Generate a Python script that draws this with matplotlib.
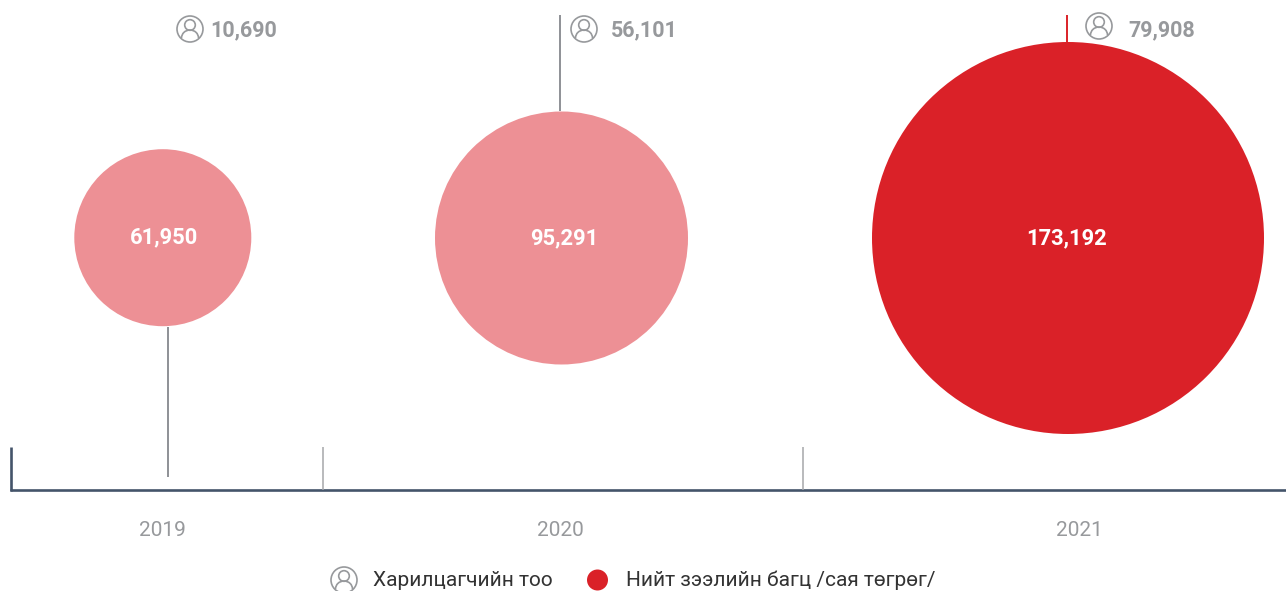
import matplotlib
matplotlib.use("Agg")
import matplotlib.pyplot as plt
from matplotlib.patches import Circle, Arc

years = ["2019", "2020", "2021"]
loans = [61950, 95291, 173192]
customers = [10690, 56101, 79908]
legend_labels = ["Харилцагчийн тоо", "Нийт зээлийн багц /сая төгрөг/"]

# layout in pixels
centers = [(162.8, 237.7), (561.5, 238), (1068, 238)]
radii = [88.5, 126.5, 196]
bubble_colors = ["#ED9095", "#ED9095", "#DA2128"]
stems = [(167.5, 327, 477, "#8E9196"), (560, 111, 15, "#8E9196"), (1067, 42, 15, "#DA2128")]
icons = [(190, 29), (584, 29), (1099, 26)]
cust_x = [210.5, 611, 1128]
cust_y = [30, 30, 30]
year_x = [162.5, 560, 1079]
label_x = [164.3, 563.8, 1066.5]

GRAY = "#97999C"
plt.rcParams["font.family"] = ["Roboto", "DejaVu Sans"]

fig = plt.figure(figsize=(12.86, 5.91), dpi=100)
ax = fig.add_axes([0, 0, 1, 1])
ax.set_xlim(0, 1286)
ax.set_ylim(591, 0)
ax.axis("off")


def icon(cx, cy, r=13, lw=1.2):
    ax.add_patch(Circle((cx, cy), r, fc="white", ec=GRAY, lw=lw, zorder=5))
    ax.add_patch(Circle((cx, cy - 4), 5.3, fc="none", ec=GRAY, lw=lw, zorder=6))
    ax.add_patch(Arc((cx, cy + 9), 17, 16, theta1=180, theta2=360,
                     ec=GRAY, lw=lw, zorder=6))


for (x, y0, y1, c) in stems:
    ax.plot([x, x], [y0, y1], color=c, lw=1.4, solid_capstyle="butt", zorder=1)

for (c, r, col, v, lx) in zip(centers, radii, bubble_colors, loans, label_x):
    ax.add_patch(Circle(c, r, fc=col, ec="none", zorder=2))
    ax.text(lx, c[1], f"{v:,}", color="white", fontsize=15.8, fontweight="bold",
            ha="center", va="center", zorder=3)

for (ic, x, y, v) in zip(icons, cust_x, cust_y, customers):
    icon(*ic)
    ax.text(x, y, f"{v:,}", color=GRAY, fontsize=15.5, fontweight="bold",
            ha="left", va="center")

# axis
AXIS = "#44546A"
ax.plot([10, 1286], [490, 490], color=AXIS, lw=1.9, solid_capstyle="butt", zorder=1)
ax.plot([10.5, 10.5], [447, 491], color=AXIS, lw=1.9, solid_capstyle="butt", zorder=1)
for x in (323, 802.5):
    ax.plot([x, x], [447, 490], color="#A5A7AA", lw=1.1, solid_capstyle="butt", zorder=2)

for x, t in zip(year_x, years):
    ax.text(x, 530.5, t, color=GRAY, fontsize=15, ha="center", va="center")

# legend
icon(344, 580)
ax.text(373, 580, legend_labels[0], color="#333333", fontsize=15, ha="left", va="center")
ax.add_patch(Circle((597.5, 580), 10.5, fc="#DA2128", ec="none"))
ax.text(626, 580, legend_labels[1], color="#333333", fontsize=15, ha="left", va="center")

fig.savefig("out.png", dpi=100, facecolor="white")
